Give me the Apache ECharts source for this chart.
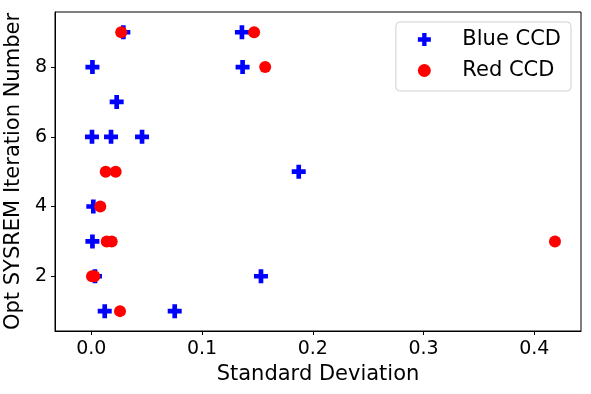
<!DOCTYPE html>
<html>
<head>
<meta charset="utf-8">
<script src="https://cdn.jsdelivr.net/npm/echarts@6/dist/echarts.min.js"></script>
<style>
  html, body { margin: 0; padding: 0; background: #fff; }
  #main { width: 591px; height: 394px; }
</style>
</head>
<body>
<div id="main"></div>
<script>
// values
var blueX = [0.0289, 0.136, 0.001, 0.1366, 0.0229, 0.0006, 0.0178, 0.0458, 0.1873, 0.0018, 0.001, 0.0033, 0.1532, 0.0121, 0.0753];
var blueY = [9, 9, 8, 8, 7, 6, 6, 6, 5, 4, 3, 2, 2, 1, 1];
var redX = [0.027, 0.147, 0.157, 0.013, 0.022, 0.0081, 0.0139, 0.0184, 0.4187, 0.0006, 0.0027, 0.0259];
var redY = [9, 9, 8, 5, 5, 4, 3, 3, 3, 2, 2, 1];
var xTicks = [0, 0.1, 0.2, 0.3, 0.4];
var yTicks = [2, 4, 6, 8];

var plusPath = 'path://M-1,-3H1V-1H3V1H1V3H-1V1H-3V-1H-1Z';
var font = 'DejaVu Sans';

function pairs(xs, ys) {
  var out = [];
  for (var i = 0; i < xs.length; i++) out.push([xs[i], ys[i]]);
  return out;
}

var chart = echarts.init(document.getElementById('main'));

var option = {
  animation: false,
  grid: {
    left: 55, right: 10, top: 12, bottom: 63,
    outerBoundsMode: 'none',
    show: true, borderColor: '#000', borderWidth: 1
  },
  legend: {
    orient: 'vertical',
    right: 20, top: 22,
    padding: [7, 10, 10, 22],
    borderColor: '#d0d0d0', borderWidth: 1, borderRadius: 4,
    itemWidth: 30, itemHeight: 13, itemGap: 10,
    textStyle: { fontFamily: font, fontSize: 21, color: '#000', lineHeight: 21, padding: [0, 0, 0, 18] },
    data: ['Blue CCD', 'Red CCD']
  },
  xAxis: {
    type: 'value',
    min: -0.0328, max: 0.4422,
    name: 'Standard Deviation',
    nameLocation: 'middle', nameGap: 31,
    nameTextStyle: { fontFamily: font, fontSize: 21, color: '#000' },
    splitLine: { show: false },
    axisLine: { show: true, onZero: false, lineStyle: { color: '#000' } },
    axisTick: { show: true, inside: false, length: 4, customValues: xTicks, lineStyle: { color: '#000' } },
    axisLabel: {
      customValues: xTicks, margin: 9,
      fontFamily: font, fontSize: 19, color: '#000',
      formatter: function (v) { return v.toFixed(1); }
    }
  },
  yAxis: {
    type: 'value',
    min: 0.43, max: 9.58,
    name: 'Opt SYSREM Iteration Number',
    nameLocation: 'middle', nameGap: 29,
    nameTextStyle: { fontFamily: font, fontSize: 21, color: '#000' },
    splitLine: { show: false },
    axisLine: { show: true, onZero: false, lineStyle: { color: '#000' } },
    axisTick: { show: true, inside: false, length: 4, customValues: yTicks, lineStyle: { color: '#000' } },
    axisLabel: {
      customValues: yTicks, margin: 8,
      fontFamily: font, fontSize: 19, color: '#000'
    }
  },
  series: [
    {
      name: 'Blue CCD',
      type: 'scatter',
      symbol: plusPath,
      symbolSize: 14,
      itemStyle: { color: '#0000ff', opacity: 1 },
      data: pairs(blueX, blueY)
    },
    {
      name: 'Red CCD',
      type: 'scatter',
      symbol: 'circle',
      symbolSize: 12,
      itemStyle: { color: '#ff0000', opacity: 1 },
      data: pairs(redX, redY)
    }
  ]
};

chart.setOption(option);
</script>
</body>
</html>
